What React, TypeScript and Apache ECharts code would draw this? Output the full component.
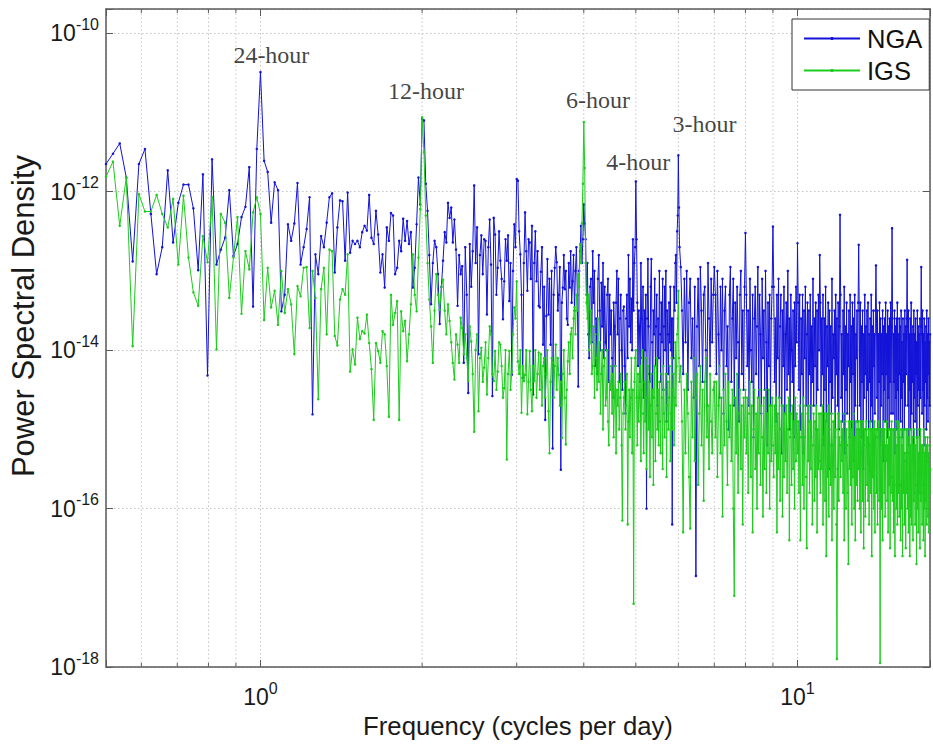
import React, { useEffect, useRef } from "react";
import * as echarts from "echarts";

// Frequencies are FFT bins: bin k sits at k / 64 cycles per day.
const BINS_PER_CYCLE = 64;

// log10(PSD).
// Low band: bins 33..256, every bin.
const LOW_START = 33;
const LOW_STEP = 1;
const ngaLow = [
  -11.65, -11.52, -11.39, -11.82, -12.88, -11.65, -11.46, -12.28, -13.04, -12.7, -11.73, -12.64, -12.14, -11.91, -11.91, -12.21,
  -12.99, -11.78, -14.32, -11.59, -12.92, -12.73, -12.58, -11.98, -12.81, -12.66, -12.32, -12.19, -11.69, -13.45, -11.46, -10.49,
  -11.61, -11.75, -12.39, -11.88, -11.98, -13.51, -13.3, -12.41, -12.62, -12.4, -11.89, -12.92, -12.7, -12.47, -12.07, -14.81,
  -12.79, -13.04, -12.56, -12.7, -12.39, -12.07, -12.02, -13.02, -12.45, -12.11, -12.12, -12.87, -12.01, -12.77, -12.62, -12.66,
  -12.62, -12.7, -12.51, -12.43, -12.49, -12.04, -12.58, -12.66, -12.24, -12.54, -13.02, -12.79, -13.21, -12.45, -12.62, -12.27,
  -12.3, -13.04, -12.96, -12.62, -12.75, -12.34, -12.62, -12.37, -12.66, -12.51, -13.21, -12.96, -12.41, -11.82, -12.16,
  -11.08, -11.1, -11.9, -12.24, -12.8, -13.42, -12.9, -12.62, -12.7, -13.04, -13.67, -13.2, -12.87, -12.51, -12.64, -12.14,
  -12.33, -12.2, -12.64, -12.35, -12.73, -13.44, -12.8, -13.04, -12.94, -14.16, -12.7, -13.3, -14.54, -12.66, -13.2, -12.75,
  -11.92, -12.9, -12.45, -14.05, -12.8, -12.55, -13.04, -12.6, -12.62, -13.55, -12.7, -12.35, -12.92, -14.58, -12.33, -12.54,
  -13.3, -12.96, -12.5, -12.87, -13.1, -13.61, -13.13, -12.6, -12.87, -12.55, -13.38, -12.9, -14.31, -13.0, -12.41, -12.7,
  -11.84, -11.86, -12.5, -12.79, -13.3, -14.35, -12.9, -12.26, -12.75, -13.25, -12.6, -12.64, -13.1, -12.43, -14.56, -12.9,
  -12.5, -13.13, -12.75, -13.44, -13.46, -13.01, -12.7, -13.93, -13.2, -14.88, -13.57, -12.85, -13.55, -13.1, -13.93, -13.0,
  -15.24, -13.3, -12.96, -12.7, -12.89, -13.5, -13.3, -12.95, -15.51, -13.4, -13.21, -12.8, -13.23, -13.0, -13.6, -13.68,
  -12.9, -13.21, -12.75, -13.4, -13.13, -12.8, -13.5, -13.0, -12.7, -13.3, -14.46, -13.0, -12.75, -12.43, -12.9, -12.6, -12.16,
];
const igsLow = [
  -11.81, -11.62, -12.43, -11.82, -13.95, -12.03, -12.25, -12.25, -12.04, -12.28, -12.45, -12.09, -12.92, -12.05, -12.83, -13.27,
  -13.44, -12.56, -12.89, -12.07, -13.99, -12.28, -12.39, -13.34, -12.83, -12.32, -13.54, -12.75, -12.98, -12.26, -12.07, -12.28,
  -13.62, -12.96, -13.46, -13.25, -13.68, -13.0, -13.53, -13.23, -13.42, -14.05, -13.19, -13.32, -12.96, -12.95, -13.72, -13.0,
  -13.34, -14.62, -13.23, -12.96, -13.8, -12.73, -12.75, -13.82, -13.94, -13.36, -13.23, -13.3, -12.79, -14.27, -13.99, -14.18,
  -13.59, -13.86, -13.76, -13.79, -13.55, -13.91, -14.24, -14.88, -13.91, -14.01, -14.16, -13.76, -13.8, -14.2, -14.84, -13.3,
  -13.68, -13.53, -13.38, -14.88, -13.51, -13.76, -13.63, -14.14, -13.8, -13.42, -12.79, -13.3, -13.51, -12.83, -12.22,
  -11.06, -11.5, -12.3, -12.9, -13.36, -13.7, -14.16, -13.5, -13.04, -13.3, -13.49, -13.2, -13.11, -13.5, -13.8, -13.42,
  -13.63, -13.9, -14.16, -14.37, -13.8, -13.93, -14.16, -13.59, -13.72, -14.05, -13.8, -14.1, -14.39, -13.7, -13.89, -14.3,
  -15.03, -14.0, -13.8, -14.77, -14.1, -13.97, -14.4, -14.22, -13.9, -14.56, -14.1, -13.7, -13.8, -14.3, -14.39, -14.01,
  -14.5, -14.27, -13.9, -13.93, -14.2, -14.6, -14.48, -14.0, -15.38, -14.3, -14.01, -14.5, -14.27, -13.8, -13.46, -13.6,
  -13.13, -14.14, -14.3, -14.0, -14.79, -14.2, -14.39, -14.31, -14.0, -14.81, -14.4, -14.01, -14.5, -14.77, -14.2, -14.39,
  -14.0, -14.6, -14.3, -14.03, -14.5, -14.05, -14.7, -14.2, -14.1, -14.6, -14.3, -14.0, -14.77, -15.3, -14.4, -14.1,
  -14.16, -14.6, -14.2, -13.93, -14.5, -14.1, -14.31, -14.7, -14.4, -15.11, -14.3, -14.0, -14.6, -15.19, -14.5, -14.14,
  -13.9, -14.3, -13.8, -13.72, -14.1, -13.6, -13.46, -13.8, -13.3, -13.5, -13.04, -13.2, -12.66, -12.9, -12.4, -11.9, -11.12,
];

// Middle band: bins 257..386, every bin.
const MID_START = 257;
const MID_STEP = 1;
const ngaMid = [
  -12.4,
  -12.6, -13.3, -12.9, -13.8, -14.1, -13.2, -13.1, -13.9, -12.75, -13.4, -13.0, -14.2, -13.6, -14.3, -13.1, -12.8,
  -13.5, -14.0, -13.15, -13.7, -12.9, -14.1, -13.2, -13.9, -14.0, -13.3, -13.1, -14.4, -13.3, -13.8, -13.5, -14.1,
  -14.6, -13.4, -13.7, -14.2, -13.4, -13.0, -13.8, -13.1, -14.4, -13.6, -13.3, -14.0, -14.5, -13.5, -13.45, -14.2,
  -14.8, -13.6, -13.3, -14.1, -12.8, -13.7, -13.1, -13.9, -13.35, -14.0, -12.6, -13.5, -12.9, -12.7, -11.87, -12.6,
  -13.4, -14.2, -13.5, -13.7, -14.4, -12.9, -13.6, -14.1, -13.2, -14.6, -13.5, -14.0, -13.3, -16.0, -13.6, -12.85,
  -13.7, -14.3, -14.4, -13.2, -12.85, -13.9, -14.6, -13.5, -13.8, -13.1, -14.2, -13.7, -13.3, -14.7, -13.6, -14.1,
  -13.0, -13.8, -14.4, -13.4, -13.9, -13.1, -14.5, -13.7, -13.2, -14.0, -13.0, -14.9, -13.5, -13.8, -14.3, -13.4,
  -13.9, -13.2, -14.0, -13.6, -16.2, -13.6, -14.1, -13.2, -13.5, -12.9, -12.8, -13.4, -12.5, -12.3, -11.54, -12.2,
  -12.7,
];
const igsMid = [
  -11.7,
  -12.9, -13.4, -13.6, -13.3, -14.0, -13.9, -13.5, -14.3, -14.2, -13.7, -14.6, -13.8, -14.1, -14.5, -13.6, -14.4,
  -13.9, -14.8, -14.3, -14.0, -15.0, -14.2, -14.1, -14.7, -14.6, -14.0, -14.9, -15.2, -14.4, -14.5, -14.2, -14.8,
  -14.3, -15.1, -14.6, -14.2, -15.3, -14.5, -14.7, -14.4, -15.0, -14.6, -14.3, -15.2, -16.15, -14.8, -14.6, -14.4,
  -15.0, -14.7, -14.3, -16.2, -14.9, -14.5, -15.1, -14.6, -14.1, -15.3, -14.5, -17.2, -14.4, -14.1, -14.0, -14.6,
  -15.2, -14.3, -14.9, -14.6, -14.2, -15.4, -14.5, -14.0, -14.8, -15.3, -14.4, -14.9, -14.1, -15.5, -14.6, -14.2,
  -15.0, -14.4, -15.6, -14.7, -14.3, -15.1, -14.5, -15.7, -14.6, -14.2, -15.4, -14.8, -14.1, -15.0, -14.5, -15.2,
  -14.4, -14.9, -15.3, -14.3, -14.6, -15.5, -14.2, -14.8, -15.1, -14.5, -14.3, -15.6, -14.7, -14.4, -15.0, -14.6,
  -14.2, -15.4, -14.8, -14.1, -15.0, -14.5, -14.3, -15.2, -14.6, -13.9, -14.7, -14.2, -13.8, -13.6, -13.25, -14.1,
  -14.4,
];

// High band: bins 388..1130, every second bin.
const HIGH_START = 388;
const HIGH_STEP = 2;
const ngaHigh = [
  -12.95, -13.5, -14.3, -13.1, -13.9, -13.0, -14.5, -13.4, -13.1, -14.1, -13.6, -14.6, -13.2, -16.85, -13.7, -13.1,
  -14.2, -12.95, -13.5, -14.4, -13.3, -13.2, -14.0, -14.7, -12.9, -13.6, -14.2, -13.1, -13.9, -13.3, -12.95,
  -13.3, -14.3, -13.0, -13.8, -14.6, -13.2, -14.0, -13.1, -14.8, -13.5, -13.2, -14.2, -13.7, -15.0, -13.3, -12.95,
  -14.4, -13.6, -13.1, -14.7, -13.4, -14.1, -13.2, -13.9, -14.9, -13.3, -13.0, -14.3, -13.5, -14.5, -13.2, -12.52,
  -13.3, -14.2, -13.5, -14.7, -13.1, -14.0, -14.4, -13.3, -15.1, -13.6, -13.2, -14.3, -13.7, -12.95, -14.6, -13.3,
  -13.8, -14.8, -13.1, -14.1, -13.5, -14.5, -13.0, -13.9, -15.2, -13.4, -14.2, -13.3, -14.7, -13.6, -13.2, -12.44,
  -13.2, -14.4, -13.6, -14.9, -13.3, -14.1, -13.1, -14.6, -13.7, -13.3, -15.3, -13.5, -14.2, -13.2, -14.8, -13.8,
  -13.4, -14.5, -13.0, -14.3, -13.6, -15.0, -13.3, -14.0, -14.4, -13.5, -15.1, -13.4, -14.2, -13.2, -13.9, -12.65,
  -13.4, -14.5, -13.3, -15.0, -13.6, -14.3, -13.3, -15.3, -13.5, -14.1, -13.2, -14.7, -13.8, -13.4, -14.9, -13.5,
  -14.3, -13.3, -15.1, -13.7, -14.4, -13.1, -14.7, -13.6, -14.2, -13.4, -15.0, -13.5, -14.5, -13.3, -14.0, -12.8,
  -13.4, -14.7, -13.6, -14.3, -13.3, -15.2, -13.6, -14.5, -13.2, -14.9, -13.7, -14.2, -13.4, -15.5, -13.5, -14.4,
  -13.7, -14.8, -13.1, -14.6, -13.8, -14.1, -13.5, -15.1, -13.3, -14.3, -13.6, -14.7, -13.4, -15.0, -13.7, -12.29,
  -13.3, -14.6, -13.8, -14.9, -13.5, -14.3, -13.2, -15.3, -13.7, -14.5, -13.4, -14.8, -13.8, -14.2, -13.5, -15.1,
  -13.3, -14.4, -13.7, -15.0, -13.4, -14.3, -13.6, -15.4, -13.3, -14.7, -13.8, -14.1, -13.5, -14.9, -13.4, -12.67,
  -13.5, -14.7, -13.4, -15.1, -13.7, -14.4, -13.5, -15.5, -13.8, -14.6, -13.3, -14.3, -13.7, -15.0, -13.5, -14.5,
  -13.4, -15.2, -13.8, -14.4, -13.6, -14.9, -13.3, -14.7, -13.7, -15.3, -13.5, -14.2, -13.8, -14.8, -13.5, -12.93,
  -13.6, -14.6, -13.5, -15.0, -13.8, -14.4, -13.4, -15.2, -13.6, -14.7, -13.8, -14.3, -13.5, -15.4, -13.7, -14.5,
  -13.6, -14.9, -13.4, -14.3, -13.8, -15.1, -13.5, -14.6, -13.7, -15.0, -13.6, -14.4, -13.4, -14.8, -13.7, -12.46,
  -13.6, -14.8, -13.8, -14.4, -13.5, -15.3, -13.7, -14.6, -13.6, -15.0, -13.4, -14.5, -13.8, -15.5, -13.6, -14.3,
  -13.7, -14.9, -13.5, -14.6, -13.9, -15.1, -13.6, -14.4, -13.8, -15.0, -13.5, -14.7, -13.7, -14.3, -13.6, -12.86,
  -13.7, -14.7, -13.5, -15.2, -13.8, -14.5, -13.6, -15.0, -13.4, -14.8, -13.8, -14.4, -13.7, -15.4, -13.5, -14.6,
  -13.8, -14.9, -13.6, -14.3, -13.9, -15.1, -13.5, -14.7, -13.7, -14.5, -13.8, -15.3, -13.6, -14.6, -13.7, -12.95,
  -13.8, -14.8, -13.5, -14.5, -13.8, -15.2, -13.6, -14.7, -13.9, -14.4, -13.7, -15.0, -13.5, -14.6, -13.8, -14.9,
  -13.6, -14.3, -13.9, -14.7, -13.8,
];
const igsHigh = [
  -14.2, -14.9, -16.3, -14.5, -15.3, -14.3, -14.8, -15.6, -16.25, -14.4, -15.1, -14.1, -15.4, -14.6, -14.3, -15.7,
  -14.8, -14.2, -15.2, -14.5, -15.9, -14.4, -14.1, -15.1, -14.7, -15.5, -14.3, -14.9, -15.3, -14.5, -14.4,
  -15.1, -14.4, -15.6, -14.7, -14.2, -15.3, -14.6, -16.1, -14.5, -15.2, -14.3, -14.9, -15.7, -14.4, -15.1, -14.7,
  -15.4, -14.5, -16.0, -17.1, -14.6, -15.3, -14.3, -15.8, -14.8, -14.5, -15.5, -14.7, -16.2, -14.6, -15.1, -14.5,
  -15.3, -14.6, -15.8, -14.8, -14.4, -15.6, -14.7, -16.3, -15.0, -14.5, -15.5, -14.8, -16.0, -14.6, -15.3, -14.5,
  -15.7, -14.7, -15.1, -16.1, -14.6, -15.5, -14.5, -15.8, -14.8, -15.3, -14.5, -16.0, -14.7, -15.4, -14.6, -15.2,
  -15.6, -14.7, -15.3, -14.6, -16.3, -14.8, -15.5, -14.6, -15.9, -15.0, -14.7, -16.1, -14.7, -15.6, -14.8, -15.4,
  -14.7, -15.8, -15.0, -14.6, -16.4, -15.1, -14.8, -15.7, -14.7, -15.5, -14.9, -16.0, -14.6, -15.4, -14.8, -15.3,
  -14.9, -15.8, -14.7, -16.4, -15.1, -14.8, -15.7, -14.6, -16.0, -15.1, -14.7, -15.6, -16.5, -14.8, -15.4, -14.7,
  -15.8, -14.9, -15.5, -14.7, -16.2, -15.2, -14.8, -15.9, -14.9, -15.6, -14.7, -16.3, -15.0, -15.5, -14.8, -15.4,
  -15.8, -14.8, -15.5, -14.7, -16.2, -15.1, -14.8, -15.9, -14.9, -16.6, -14.8, -15.6, -14.7, -16.1, -15.0, -15.2,
  -15.7, -14.8, -16.4, -15.2, -14.9, -16.0, -14.8, -15.6, -15.0, -16.2, -17.9, -15.5, -14.8, -15.9, -15.1, -15.2,
  -15.6, -14.9, -15.4, -15.0, -15.8, -14.8, -16.4, -15.2, -14.9, -16.0, -15.0, -15.2, -15.8, -16.7, -14.9, -15.5,
  -14.9, -15.7, -15.0, -16.2, -14.9, -15.6, -14.8, -16.0, -15.1, -16.4, -14.9, -15.7, -15.0, -15.9, -14.9, -15.5,
  -15.0, -16.0, -14.9, -16.3, -15.3, -15.0, -15.9, -14.9, -16.5, -15.2, -15.0, -16.1, -15.0, -14.9, -15.7, -15.1,
  -15.9, -15.0, -16.2, -15.2, -14.9, -15.8, -15.0, -16.6, -15.0, -15.6, -15.1, -16.0, -14.9, -16.3, -15.1, -15.0,
  -15.8, -15.0, -16.2, -15.1, -14.9, -15.9, -15.0, -17.95, -15.2, -15.0, -16.0, -15.0, -16.4, -15.2, -14.9, -15.8,
  -15.0, -16.1, -15.2, -15.4, -14.9, -15.9, -15.2, -16.3, -15.0, -15.7, -15.1, -16.5, -15.0, -15.8, -14.9, -15.6,
  -15.9, -15.0, -16.3, -15.0, -15.7, -16.6, -15.1, -14.9, -16.0, -15.2, -16.2, -15.0, -15.8, -14.9, -16.1, -15.1,
  -15.7, -16.4, -15.0, -16.0, -15.2, -16.6, -15.0, -15.8, -15.0, -16.2, -15.3, -15.4, -16.5, -15.0, -15.8, -15.0,
  -16.0, -15.1, -16.3, -15.3, -15.0, -16.6, -15.2, -16.1, -15.0, -16.2, -15.4, -15.1, -16.4, -15.2, -15.9, -15.0,
  -15.8, -16.2, -15.2, -15.7, -16.7, -15.1, -16.0, -15.0, -16.3, -15.3, -15.8, -15.1, -16.5, -15.0, -15.9, -15.2,
  -15.8, -16.2, -15.2, -15.7, -16.4, -15.0, -16.0, -15.3, -16.6, -15.1, -15.9, -15.2, -16.2, -15.4, -15.1, -16.1,
  -15.3, -16.3, -15.2, -15.8, -15.5,
];

// Axis ranges and tick values
const X_MIN = 33 / 64;
const X_MAX = 17.65;
const Y_MIN = 1e-18;
const Y_MAX = Math.pow(10, -9.693);
const X_MINOR_GRID = [0.6, 0.7, 0.8, 0.9, 2, 3, 4, 5, 6, 7, 8, 9];

// Peak annotations (anchored at the left / middle of each text, in data coordinates)
const annotationText = ["24-hour", "12-hour", "6-hour", "4-hour", "3-hour"];
const annotationFreq = [0.8903, 1.728, 3.707, 4.405, 5.85];
const annotationLogPsd = [-10.274, -10.722, -10.842, -11.629, -11.14];

const toPoints = (start: number, step: number, logs: number[]) =>
  logs.map((v, i) => [(start + i * step) / BINS_PER_CYCLE, Math.pow(10, v)]);

const SANS = "'Liberation Sans', Arial, Helvetica, sans-serif";
const SERIF = "'Liberation Serif', 'Times New Roman', serif";
const AXIS_COLOR = "#5a5a5a";
const GRID_COLOR = "#c4c4c4";
const BLUE = "#1212d8";
const GREEN = "#1ccc1c";

const powLabel = (v: number) => {
  const e = Math.log10(v);
  const r = Math.round(e);
  if (Math.abs(e - r) > 1e-6) return "";
  return `{b|10}{s|${r}}`;
};

const labelRich = {
  b: { fontSize: 23, fontFamily: SANS, color: "#1a1a1a", lineHeight: 34 },
  s: { fontSize: 16, fontFamily: SANS, color: "#1a1a1a", lineHeight: 14, verticalAlign: "top" },
};

export default function App() {
  const ref = useRef<HTMLDivElement>(null);

  useEffect(() => {
    if (!ref.current) return;
    const chart = echarts.init(ref.current, null, { renderer: "svg" });

    const nga = [
      ...toPoints(LOW_START, LOW_STEP, ngaLow),
      ...toPoints(MID_START, MID_STEP, ngaMid),
      ...toPoints(HIGH_START, HIGH_STEP, ngaHigh),
    ];
    const igs = [
      ...toPoints(LOW_START, LOW_STEP, igsLow),
      ...toPoints(MID_START, MID_STEP, igsMid),
      ...toPoints(HIGH_START, HIGH_STEP, igsHigh),
    ];

    const splitLineStyle = { color: GRID_COLOR, width: 1, type: [1.5, 2.5] as any };
    const axisLine = { show: true, lineStyle: { color: AXIS_COLOR, width: 1.5 } };
    const axisTick = { show: true, inside: true, length: 7, lineStyle: { color: AXIS_COLOR, width: 1 } };

    const option: any = {
      animation: false,
      backgroundColor: "#ffffff",
      grid: { left: 104, top: 9, width: 831, height: 658, containLabel: false },
      legend: {
        data: ["NGA", "IGS"],
        orient: "vertical",
        left: 792,
        top: 19,
        padding: [6.5, 7, 6.5, 11],
        itemGap: 6,
        itemWidth: 56,
        itemHeight: 4,
        backgroundColor: "#ffffff",
        borderColor: "#333333",
        borderWidth: 1,
        borderRadius: 0,
        selectedMode: false,
        textStyle: { fontSize: 25.5, fontFamily: SANS, color: "#111111", lineHeight: 25.5, padding: [0, 0, 0, 2] },
      },
      xAxis: [
        {
          type: "log",
          logBase: 10,
          min: X_MIN,
          max: X_MAX,
          position: "bottom",
          name: "Frequency (cycles per day)",
          nameLocation: "middle",
          nameGap: 42,
          nameTextStyle: { fontSize: 25.7, fontFamily: SANS, color: "#1a1a1a" },
          axisLine,
          axisTick,
          axisLabel: { formatter: powLabel, rich: labelRich, margin: 13 },
          splitLine: { show: true, lineStyle: splitLineStyle },
          minorTick: { show: false },
        },
        {
          type: "log",
          logBase: 10,
          min: X_MIN,
          max: X_MAX,
          position: "top",
          axisLine,
          axisTick,
          axisLabel: { show: false },
          splitLine: { show: false },
        },
      ],
      yAxis: [
        {
          type: "log",
          logBase: 10,
          min: Y_MIN,
          max: Y_MAX,
          interval: 2,
          position: "left",
          name: "Power Spectral Density",
          nameLocation: "middle",
          nameGap: 67,
          nameTextStyle: { fontSize: 31, fontFamily: SANS, color: "#1a1a1a", padding: [0, 0, 0, 44] },
          axisLine,
          axisTick,
          axisLabel: { formatter: powLabel, rich: labelRich, margin: 7 },
          splitLine: { show: true, lineStyle: splitLineStyle },
        },
        {
          type: "log",
          logBase: 10,
          min: Y_MIN,
          max: Y_MAX,
          interval: 2,
          position: "right",
          axisLine,
          axisTick,
          axisLabel: { show: false },
          splitLine: { show: false },
        },
      ],
      series: [
        {
          name: "minor grid",
          type: "custom",
          xAxisIndex: 0,
          yAxisIndex: 0,
          silent: true,
          z: 1,
          data: X_MINOR_GRID.map((f) => [f, Y_MIN]),
          renderItem: (_params: any, api: any) => {
            const f = api.value(0);
            const b = api.coord([f, Y_MIN]);
            const t = api.coord([f, Y_MAX]);
            return {
              type: "group",
              children: [
                {
                  type: "line",
                  shape: { x1: b[0], y1: b[1], x2: t[0], y2: t[1] },
                  style: { stroke: GRID_COLOR, lineWidth: 1, lineDash: [1.5, 2.5] },
                },
                {
                  type: "line",
                  shape: { x1: b[0], y1: b[1], x2: b[0], y2: b[1] - 4 },
                  style: { stroke: AXIS_COLOR, lineWidth: 1 },
                },
                {
                  type: "line",
                  shape: { x1: t[0], y1: t[1], x2: t[0], y2: t[1] + 4 },
                  style: { stroke: AXIS_COLOR, lineWidth: 1 },
                },
              ],
            };
          },
        },
        {
          name: "NGA",
          type: "line",
          xAxisIndex: 0,
          yAxisIndex: 0,
          data: nga,
          showSymbol: true,
          showAllSymbol: true,
          symbol: "circle",
          symbolSize: 2.5,
          lineStyle: { color: BLUE, width: 1 },
          itemStyle: { color: BLUE },
          z: 2,
        },
        {
          name: "IGS",
          type: "line",
          xAxisIndex: 0,
          yAxisIndex: 0,
          data: igs,
          showSymbol: true,
          showAllSymbol: true,
          symbol: "circle",
          symbolSize: 2.5,
          lineStyle: { color: GREEN, width: 1 },
          itemStyle: { color: GREEN },
          z: 3,
        },
        {
          name: "annotations",
          type: "scatter",
          xAxisIndex: 0,
          yAxisIndex: 0,
          silent: true,
          symbolSize: 0,
          z: 5,
          data: annotationText.map((t, i) => ({
            value: [annotationFreq[i], Math.pow(10, annotationLogPsd[i])],
            label: { formatter: t },
          })),
          label: {
            show: true,
            position: "right",
            distance: 0,
            fontFamily: SERIF,
            fontSize: 24,
            color: "#111111",
          },
        },
      ],
    };

    chart.setOption(option);
    return () => chart.dispose();
  }, []);

  return (
    <div
      ref={ref}
      style={{ position: "fixed", left: 0, top: 0, width: 933, height: 745, background: "#fff" }}
    />
  );
}
